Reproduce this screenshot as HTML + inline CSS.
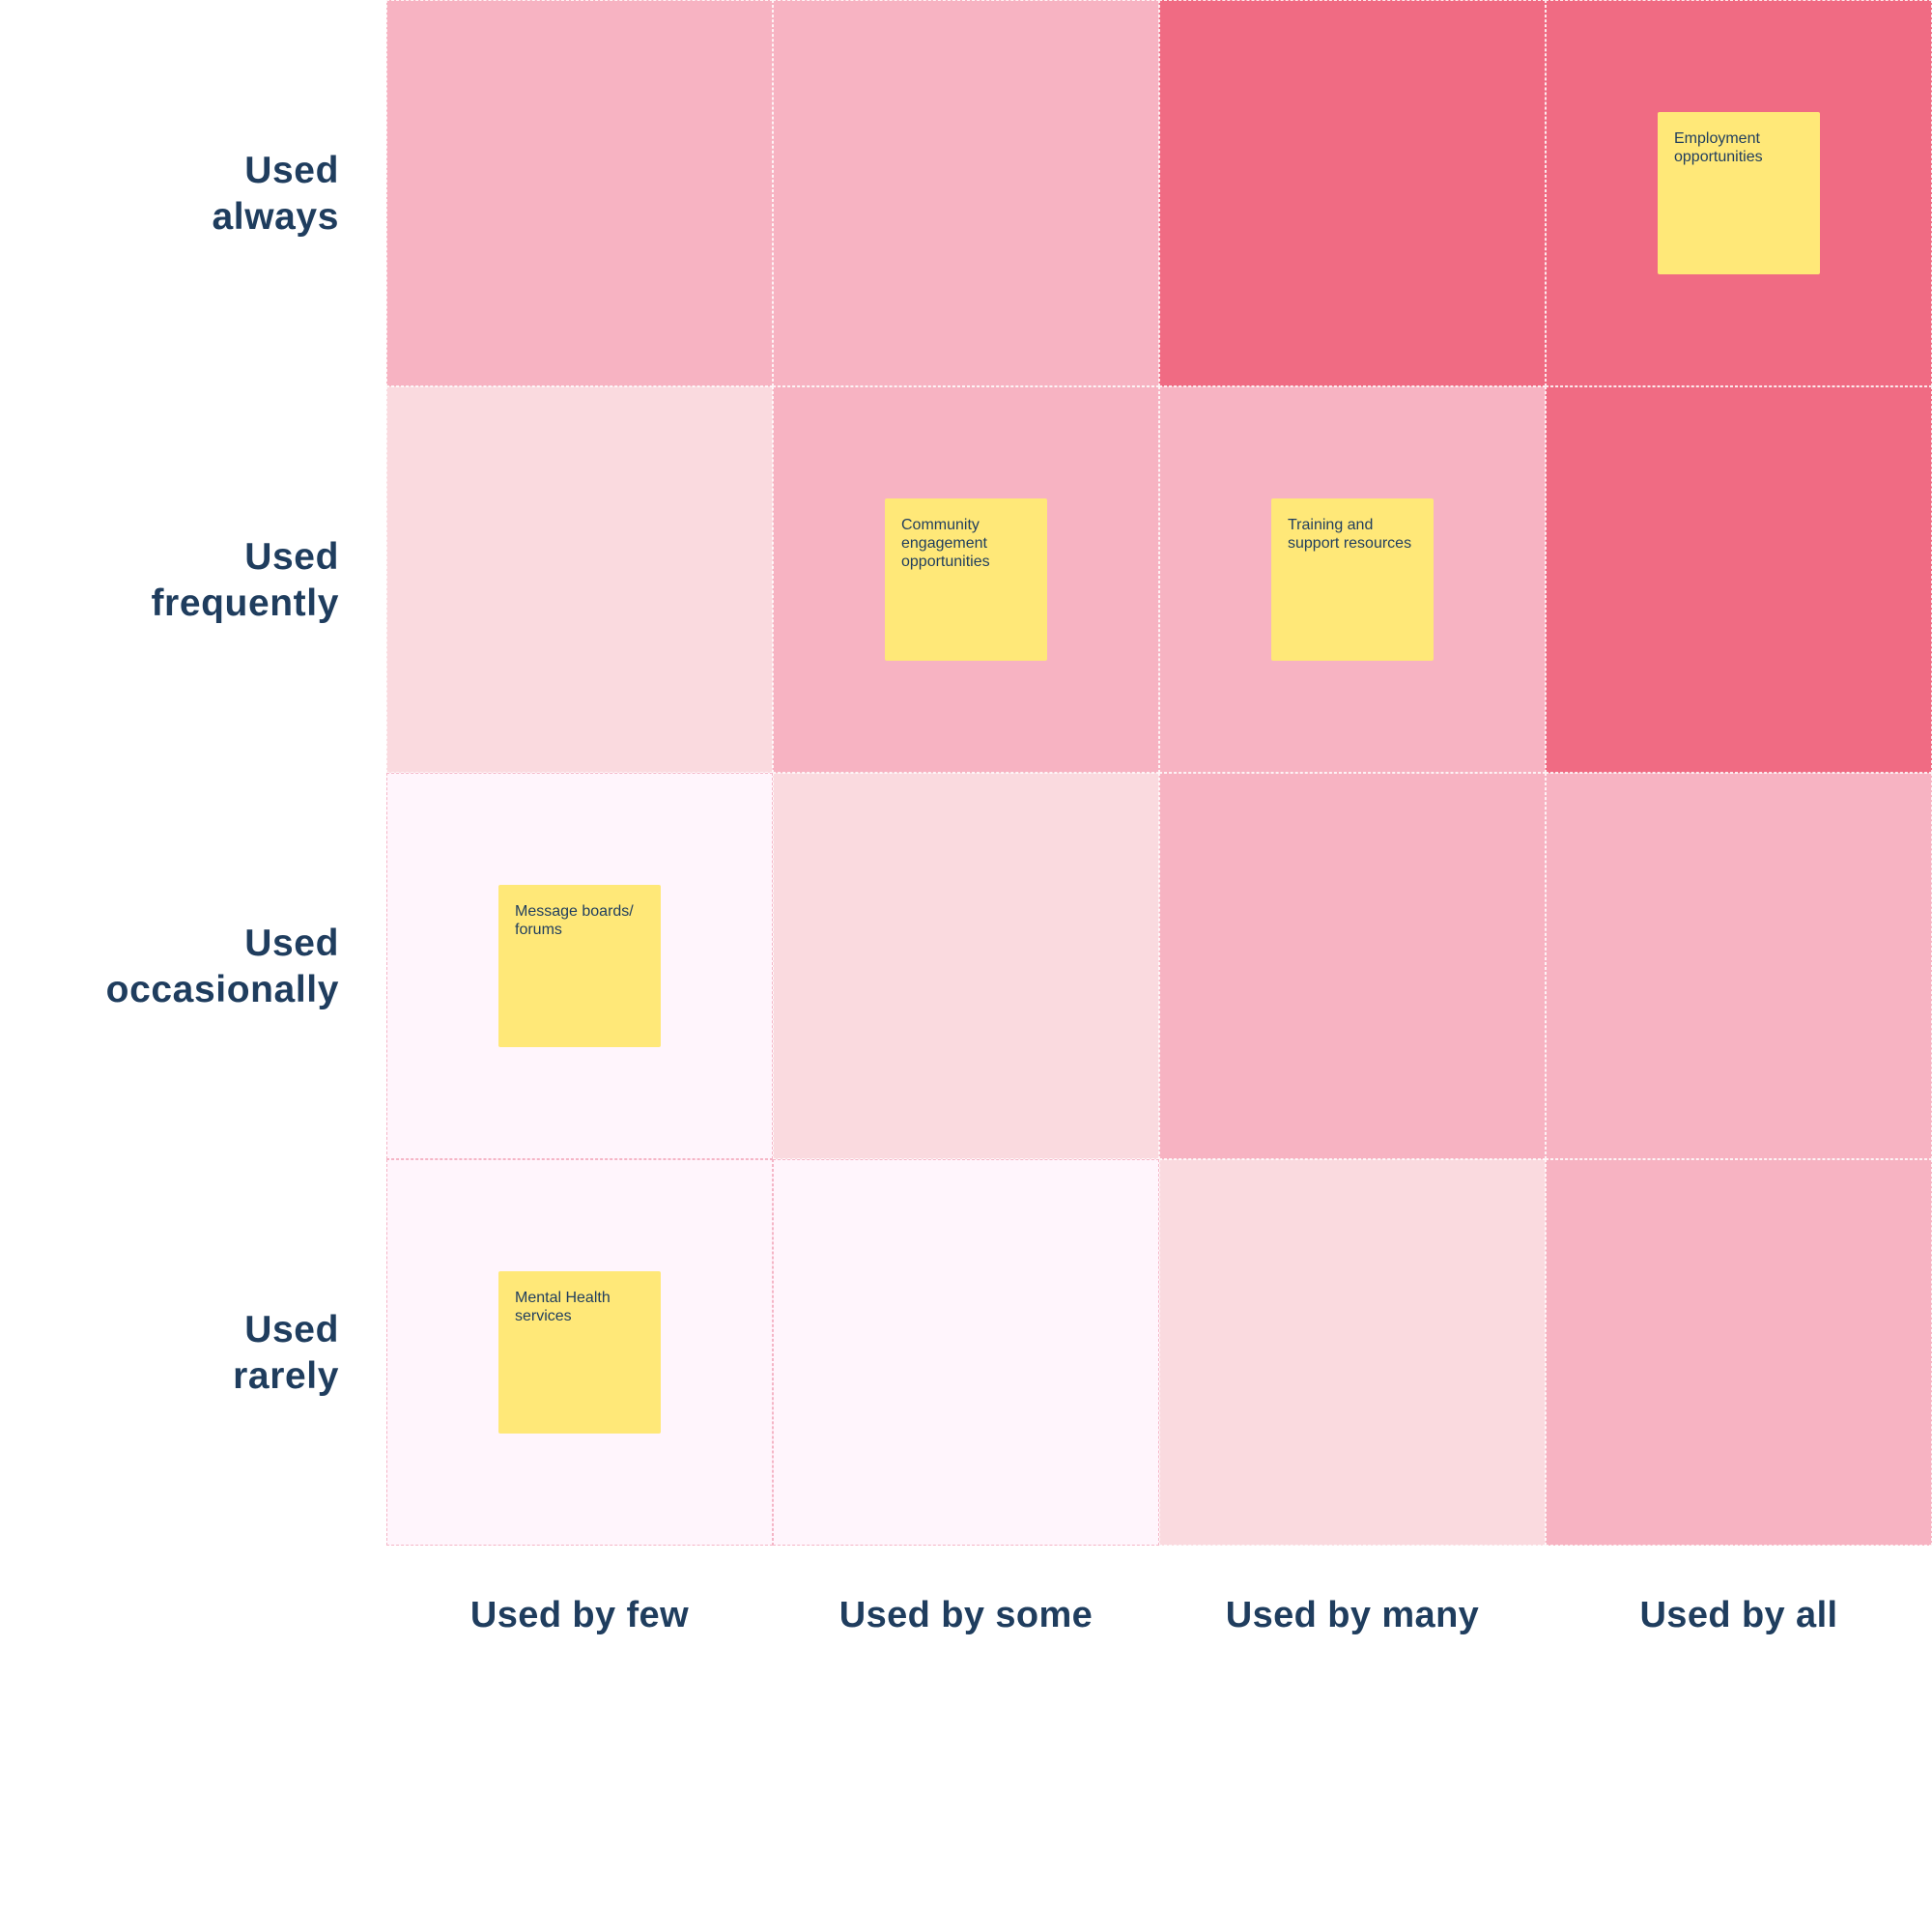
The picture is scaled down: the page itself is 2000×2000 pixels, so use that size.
<!DOCTYPE html>
<html><head><meta charset="utf-8"><style>
html,body{margin:0;padding:0;background:#fff;}
body{width:2000px;height:2000px;position:relative;overflow:hidden;font-family:"Liberation Sans",sans-serif;color:#1f3d5e;}
.c{position:absolute;width:400px;height:400px;box-sizing:border-box;}
.d{background:#f06b83;border:1.5px dashed rgba(255,255,255,0.85);}
.m{background:#f7b3c2;border:1.5px dashed rgba(255,255,255,0.85);}
.l{background:#fadadf;border:1.5px dashed rgba(255,255,255,0.85);}
.p{background:#fff5fc;border:1.5px dashed #f5b5c6;}
.n{position:absolute;width:168px;height:168px;background:#ffe878;border-radius:2px;box-sizing:border-box;padding:18px 0 0 17px;font-size:16px;line-height:19px;color:#1f3d5e;}
.rl{position:absolute;left:0;width:351px;text-align:right;font-weight:bold;font-size:39px;line-height:48px;letter-spacing:0.6px;}
.cl{position:absolute;top:1648px;width:400px;text-align:center;font-weight:bold;font-size:38px;line-height:48px;letter-spacing:0.4px;}
</style></head><body>
<div class="c m" style="left:400px;top:0"></div>
<div class="c m" style="left:800px;top:0"></div>
<div class="c d" style="left:1200px;top:0"></div>
<div class="c d" style="left:1600px;top:0"></div>
<div class="c l" style="left:400px;top:400px"></div>
<div class="c m" style="left:800px;top:400px"></div>
<div class="c m" style="left:1200px;top:400px"></div>
<div class="c d" style="left:1600px;top:400px"></div>
<div class="c p" style="left:400px;top:800px"></div>
<div class="c l" style="left:800px;top:800px"></div>
<div class="c m" style="left:1200px;top:800px"></div>
<div class="c m" style="left:1600px;top:800px"></div>
<div class="c p" style="left:400px;top:1200px"></div>
<div class="c p" style="left:800px;top:1200px"></div>
<div class="c l" style="left:1200px;top:1200px"></div>
<div class="c m" style="left:1600px;top:1200px"></div>

<div class="n" style="left:1716px;top:116px">Employment<br>opportunities</div>
<div class="n" style="left:916px;top:516px">Community<br>engagement<br>opportunities</div>
<div class="n" style="left:1316px;top:516px">Training and<br>support resources</div>
<div class="n" style="left:516px;top:916px">Message boards/<br>forums</div>
<div class="n" style="left:516px;top:1316px">Mental Health<br>services</div>

<div class="rl" style="top:153px">Used<br>always</div>
<div class="rl" style="top:553px">Used<br>frequently</div>
<div class="rl" style="top:953px">Used<br>occasionally</div>
<div class="rl" style="top:1353px">Used<br>rarely</div>

<div class="cl" style="left:400px">Used by few</div>
<div class="cl" style="left:800px">Used by some</div>
<div class="cl" style="left:1200px">Used by many</div>
<div class="cl" style="left:1600px">Used by all</div>
</body></html>
